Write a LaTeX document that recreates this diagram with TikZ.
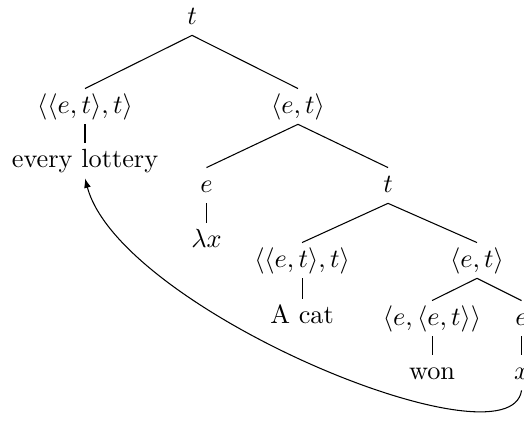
\documentclass[tikz,border=0pt]{standalone}
\usepackage{amsmath}
\usetikzlibrary{
    arrows.meta
}

\begin{document}
\begin{tikzpicture}[
    >={Latex[length=3.6pt,width=2.6pt]},
    type/.style={anchor=base, inner sep=2pt, text height=7.1pt, text depth=2.1pt}
]

% Frame
\useasboundingbox (0,0) rectangle (7.002,-5.626);

% Root
\node[type] (root) at (2.566,-0.321) {$t$};

% Quantifier phrase
\node[type] (gq) at (1.136,-1.510) {$\langle\langle e,t\rangle,t\rangle$};
\node[type] (lottery) at (1.136,-2.232) {every lottery};

% Abstraction
\node[type] (abs) at (3.982,-1.510) {$\langle e,t\rangle$};
\node[type] (var) at (2.759,-2.566) {$e$};
\node[type] (lambda) at (2.759,-3.301) {$\lambda x$};
\node[type] (body) at (5.185,-2.566) {$t$};

% Subject
\node[type] (subj) at (4.036,-3.568) {$\langle\langle e,t\rangle,t\rangle$};
\node[type] (cat) at (4.036,-4.316) {A cat};

% Verb phrase
\node[type] (vp) at (6.374,-3.568) {$\langle e,t\rangle$};
\node[type] (verb) at (5.773,-4.343) {$\langle e,\langle e,t\rangle\rangle$};
\node[type] (won) at (5.773,-5.065) {won};
\node[type] (obj) at (6.969,-4.343) {$e$};
\node[type] (trace) at (6.969,-5.065) {$x$};

% Branches
\draw (root.south) -- (gq.north);
\draw (root.south) -- (abs.north);
\draw (gq.south) -- (lottery.north);
\draw (abs.south) -- (var.north);
\draw (abs.south) -- (body.north);
\draw (var.south) -- (lambda.north);
\draw (body.south) -- (subj.north);
\draw (body.south) -- (vp.north);
\draw (subj.south) -- (cat.north);
\draw (vp.south) -- (verb.north);
\draw (vp.south) -- (obj.north);
\draw (verb.south) -- (won.north);
\draw (obj.south) -- (trace.north);

% Movement
\draw[->]
    (trace.south) .. controls +(-0.154,-1.069) and +(0.468,-1.764) .. (lottery.south);

\end{tikzpicture}
\end{document}
